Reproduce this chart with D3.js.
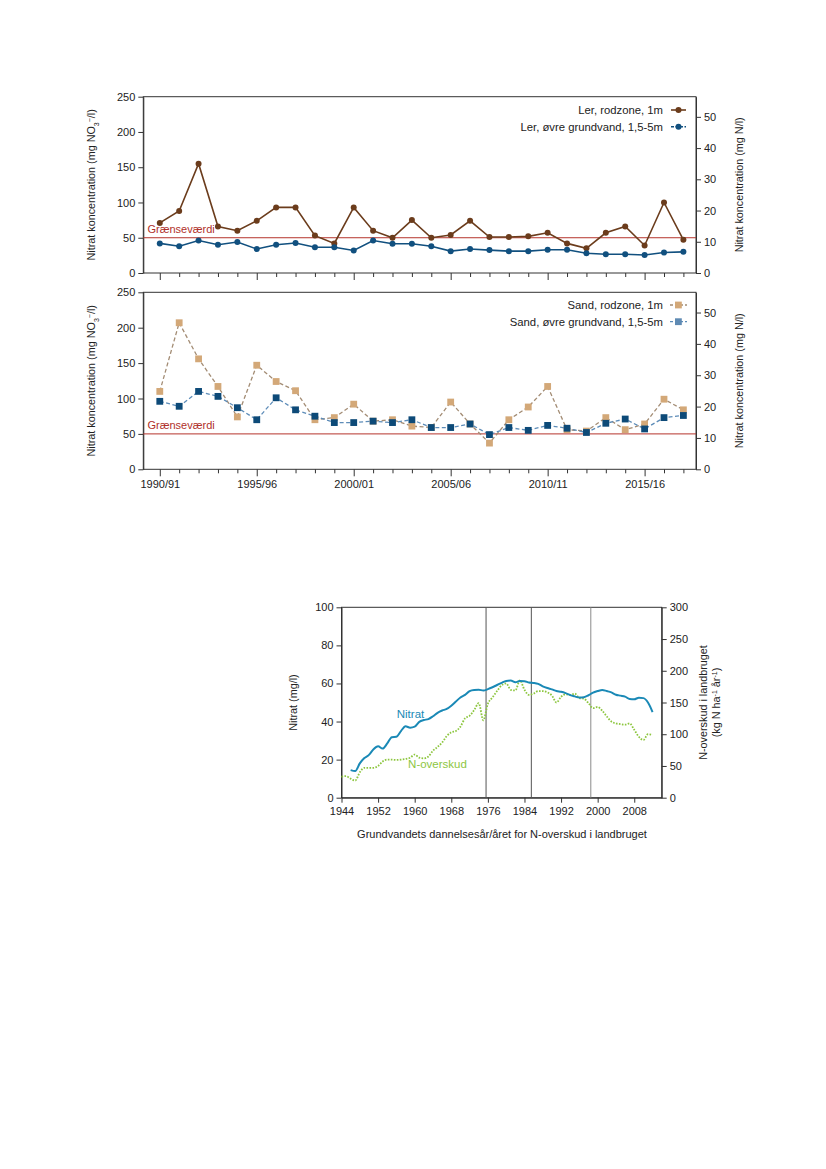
<!DOCTYPE html>
<html>
<head>
<meta charset="utf-8">
<script src="https://cdn.jsdelivr.net/npm/d3@7"></script>
<style>
  body { margin: 0; background: #fff; }
  svg text { font-family: "Liberation Sans", Arial, sans-serif; }
</style>
</head>
<body>
<script>
// ---- data: top figure (mg NO3/l), one value per season ----
var seasons = ["1990/91","1991/92","1992/93","1993/94","1994/95","1995/96","1996/97","1997/98",
  "1998/99","1999/00","2000/01","2001/02","2002/03","2003/04","2004/05","2005/06","2006/07",
  "2007/08","2008/09","2009/10","2010/11","2011/12","2012/13","2013/14","2014/15","2015/16",
  "2016/17","2017/18"];
var lerRod = [71, 88, 155, 66, 60, 74, 93, 93, 53, 42, 93, 60, 50, 75, 50, 54, 74, 51, 51, 52, 57, 42, 35, 57, 66, 39, 100, 47];
var lerGrund = [42, 38, 46, 40, 44, 34, 40, 42.5, 36.5, 36.5, 32, 46, 41.5, 41.5, 38, 31, 34, 32.5, 31, 31, 33, 33, 28, 26.5, 26.5, 25.5, 29, 30];
var sandRod = [110, 207, 156, 117, 74, 147, 124, 111, 70, 73, 92, 68, 70, 61, 59, 95, 64, 37, 70, 88, 117, 56, 54, 73, 56, 64, 99, 84];
var sandGrund = [96, 89, 110, 103, 87, 70, 101, 84, 75, 66, 66, 68, 66, 70, 59, 59, 64, 49, 59, 55, 62, 58, 52, 65, 71, 57, 73, 76];
var limitValue = 50;
var leftTicksTop = [0, 50, 100, 150, 200, 250];
var rightTicksTop = [0, 10, 20, 30, 40, 50];

// ---- data: bottom figure ----
var nitratYears = d3.range(1946, 2013);
var nitrat = [14.5, 14, 18, 20.8, 22.5, 25.5, 27, 25.8, 28.5, 31.8, 32, 35, 37.5, 36.8, 37.3, 39.8,
  40.8, 41.3, 42.8, 44.6, 45.8, 46.6, 48.3, 50.5, 52.6, 54, 56, 56.6, 56.7, 56.3, 57, 58, 59.2, 60.3,
  61.3, 61.5, 60.6, 61.3, 61.2, 60.5, 60.3, 59.8, 58.5, 57.6, 56.9, 56, 55.6, 54.9, 53.9, 53.2, 52.6,
  52.8, 53.8, 55.2, 56, 56.6, 56, 55.3, 54.1, 53.6, 53.1, 51.8, 51.7, 52.5, 52.3, 50, 45];
var surplusYears = d3.range(1944, 2013);
var surplus = [33, 34, 30, 27, 40, 47, 47, 47, 50, 57, 60, 60, 59.5, 60, 61, 63, 68, 63, 62, 65, 74,
  80, 87, 97, 103, 105, 112, 125, 129, 138, 149, 122, 148, 158, 168, 177, 180, 170, 169, 185, 170,
  162, 164, 168, 168, 166, 161, 150, 159, 163, 162, 164, 157, 156, 149, 141, 143, 137, 128, 120, 117,
  116, 115, 117, 107, 96, 91, 100, 99];
var markerYears = [1975.6, 1985.5, 1998.5];
var xTicksBottom = [1944, 1952, 1960, 1968, 1976, 1984, 1992, 2000, 2008];
var leftTicksBottom = [0, 20, 40, 60, 80, 100];
var rightTicksBottom = [0, 50, 100, 150, 200, 250, 300];

var NtoNO3 = 14 / 62;

var svg = d3.select("body").append("svg")
    .attr("width", 826)
    .attr("height", 1169);

var axisColor = "#333";
var fontSize = "11px";

function styleAxis(g) {
    g.selectAll("path").attr("stroke", axisColor);
    g.selectAll("line").attr("stroke", axisColor);
    g.selectAll("text").attr("fill", "#222").style("font-size", fontSize);
}

// ================= top figure =================
var x = d3.scaleLinear().domain([-0.85, 27.65]).range([143.3, 696]);

var panels = [
    { top: 96.7, bottom: 273, rod: lerRod, grund: lerGrund, labels: false,
      names: ["Ler, rodzone, 1m", "Ler, øvre grundvand, 1,5-5m"] },
    { top: 292.3, bottom: 469.3, rod: sandRod, grund: sandGrund, labels: true,
      names: ["Sand, rodzone, 1m", "Sand, øvre grundvand, 1,5-5m"] }
];

panels.forEach(function(p, pi) {
    var y = d3.scaleLinear().domain([0, 250]).range([p.bottom, p.top]);
    var yR = d3.scaleLinear().domain([0, 250 * NtoNO3]).range([p.bottom, p.top]);
    var g = svg.append("g");

    // frame
    g.append("rect")
        .attr("x", x.range()[0]).attr("y", p.top)
        .attr("width", x.range()[1] - x.range()[0])
        .attr("height", p.bottom - p.top)
        .attr("fill", "none").attr("stroke", axisColor).attr("stroke-width", 1);

    // axes
    g.append("g").attr("transform", "translate(" + x.range()[0] + ",0)")
        .call(d3.axisLeft(y).tickValues(leftTicksTop).tickSize(5).tickSizeOuter(0))
        .call(styleAxis);
    g.append("g").attr("transform", "translate(" + x.range()[1] + ",0)")
        .call(d3.axisRight(yR).tickValues(rightTicksTop).tickSize(5).tickSizeOuter(0))
        .call(styleAxis);
    var xa = g.append("g").attr("transform", "translate(0," + p.bottom + ")")
        .call(d3.axisBottom(x).tickValues(d3.range(seasons.length)).tickSizeOuter(0)
            .tickFormat(function(i) { return (p.labels && i % 5 === 0) ? seasons[i] : ""; }))
        .call(styleAxis);
    xa.selectAll(".tick line").attr("y2", function(i) { return i % 5 === 0 ? 7 : 4; });
    xa.selectAll(".tick text").attr("y", 11);
    xa.select(".domain").remove();

    // limit line
    g.append("line")
        .attr("x1", x.range()[0]).attr("x2", x.range()[1])
        .attr("y1", y(limitValue)).attr("y2", y(limitValue))
        .attr("stroke", "#b5342c").attr("stroke-width", 1);
    g.append("text")
        .attr("x", 147.5).attr("y", y(limitValue) - 4.5)
        .attr("fill", "#b0302a").style("font-size", "11px")
        .text("Grænseværdi");

    // axis titles
    var lt = g.append("text")
        .attr("transform", "translate(95," + ((p.top + p.bottom) / 2) + ") rotate(-90)")
        .attr("text-anchor", "middle").attr("fill", "#222").style("font-size", "10.8px");
    lt.append("tspan").text("Nitrat koncentration (mg NO");
    lt.append("tspan").attr("baseline-shift", "sub").style("font-size", "7px").text("3");
    lt.append("tspan").attr("baseline-shift", "super").style("font-size", "7px").text("−");
    lt.append("tspan").text("/l)");
    g.append("text")
        .attr("transform", "translate(743," + ((p.top + p.bottom) / 2) + ") rotate(-90)")
        .attr("text-anchor", "middle").attr("fill", "#222").style("font-size", "10.8px")
        .text("Nitrat koncentration (mg N/l)");

    var line = d3.line().x(function(d, i) { return x(i); }).y(function(d) { return y(d); });

    if (pi === 0) {
        var series = [
            { data: p.rod, color: "#6b3c1c", mark: "#6b3c1c" },
            { data: p.grund, color: "#11507f", mark: "#11507f" }
        ];
        series.forEach(function(s) {
            g.append("path").datum(s.data).attr("d", line)
                .attr("fill", "none").attr("stroke", s.color).attr("stroke-width", 1.6);
            g.selectAll(null).data(s.data).enter().append("circle")
                .attr("cx", function(d, i) { return x(i); })
                .attr("cy", function(d) { return y(d); })
                .attr("r", 3).attr("fill", s.mark);
        });
        // legend
        series.forEach(function(s, k) {
            var ly = 110 + k * 16.7;
            g.append("text").attr("x", 663).attr("y", ly + 4).attr("text-anchor", "end")
                .attr("fill", "#222").style("font-size", "11.3px").text(p.names[k]);
            g.append("line").attr("x1", 671).attr("x2", 686).attr("y1", ly).attr("y2", ly)
                .attr("stroke", s.color).attr("stroke-width", 1.6)
                .attr("stroke-dasharray", k === 1 ? "3,1.5" : null);
            g.append("circle").attr("cx", 678.5).attr("cy", ly).attr("r", 3).attr("fill", s.mark);
        });
    } else {
        var series2 = [
            { data: p.rod, color: "#a38c74", mark: "#d3a878", legendMark: "#d3a878" },
            { data: p.grund, color: "#5d8cb8", mark: "#0d4a78", legendMark: "#5f8ab3" }
        ];
        series2.forEach(function(s) {
            g.append("path").datum(s.data).attr("d", line)
                .attr("fill", "none").attr("stroke", s.color).attr("stroke-width", 1.3)
                .attr("stroke-dasharray", "4,2.5");
        });
        series2.forEach(function(s) {
            g.selectAll(null).data(s.data).enter().append("rect")
                .attr("x", function(d, i) { return x(i) - 3.4; })
                .attr("y", function(d) { return y(d) - 3.4; })
                .attr("width", 6.8).attr("height", 6.8).attr("fill", s.mark);
        });
        series2.forEach(function(s, k) {
            var ly = 305 + k * 16.7;
            g.append("text").attr("x", 663).attr("y", ly + 4).attr("text-anchor", "end")
                .attr("fill", "#222").style("font-size", "11.3px").text(p.names[k]);
            g.append("line").attr("x1", 670).attr("x2", 687).attr("y1", ly).attr("y2", ly)
                .attr("stroke", s.color).attr("stroke-width", 1.3).attr("stroke-dasharray", "3,2");
            g.append("rect").attr("x", 675).attr("y", ly - 3.4).attr("width", 6.8).attr("height", 6.8)
                .attr("fill", s.legendMark);
        });
    }
});

// ================= bottom figure =================
var bx = d3.scaleLinear().domain([1944, 2014]).range([341.5, 661.7]);
var by = d3.scaleLinear().domain([0, 100]).range([797.7, 607.3]);
var byR = d3.scaleLinear().domain([0, 300]).range([797.7, 607.3]);
var b = svg.append("g");

b.append("rect")
    .attr("x", bx.range()[0]).attr("y", by.range()[1])
    .attr("width", bx.range()[1] - bx.range()[0])
    .attr("height", by.range()[0] - by.range()[1])
    .attr("fill", "none").attr("stroke", axisColor);

b.append("g").attr("transform", "translate(" + bx.range()[0] + ",0)")
    .call(d3.axisLeft(by).tickValues(leftTicksBottom).tickSize(5).tickSizeOuter(0))
    .call(styleAxis);
b.append("g").attr("transform", "translate(" + bx.range()[1] + ",0)")
    .call(d3.axisRight(byR).tickValues(rightTicksBottom).tickSize(5).tickSizeOuter(0))
    .call(styleAxis);
b.append("g").attr("transform", "translate(0," + by.range()[0] + ")")
    .call(d3.axisBottom(bx).tickValues(xTicksBottom).tickFormat(d3.format("d")).tickSize(5).tickSizeOuter(0))
    .call(styleAxis)
    .selectAll(".tick text").attr("y", 10);

// period lines
b.selectAll(null).data(markerYears).enter().append("line")
    .attr("x1", function(d) { return bx(d); }).attr("x2", function(d) { return bx(d); })
    .attr("y1", by.range()[1]).attr("y2", by.range()[0])
    .attr("stroke", function(d, i) { return i === 2 ? "#8a8a8a" : "#555"; })
    .attr("stroke-width", 1);

// surplus (right axis), dotted
b.append("path").datum(surplus)
    .attr("d", d3.line().curve(d3.curveMonotoneX)
        .x(function(d, i) { return bx(surplusYears[i]); })
        .y(function(d) { return byR(d); }))
    .attr("fill", "none").attr("stroke", "#8dc63f").attr("stroke-width", 1.8)
    .attr("stroke-dasharray", "1.6,1.4");

// nitrate (left axis)
b.append("path").datum(nitrat)
    .attr("d", d3.line().curve(d3.curveMonotoneX)
        .x(function(d, i) { return bx(nitratYears[i]); })
        .y(function(d) { return by(d); }))
    .attr("fill", "none").attr("stroke", "#1a89b6").attr("stroke-width", 2);

b.append("text").attr("x", 410.5).attr("y", 718).attr("text-anchor", "middle")
    .attr("fill", "#1a89b6").style("font-size", "11.5px").text("Nitrat");
b.append("text").attr("x", 437.5).attr("y", 768).attr("text-anchor", "middle")
    .attr("fill", "#8dc63f").style("font-size", "11.5px").text("N-overskud");

b.append("text")
    .attr("transform", "translate(297,702.5) rotate(-90)")
    .attr("text-anchor", "middle").attr("fill", "#222").style("font-size", "10.8px")
    .text("Nitrat (mg/l)");
b.append("text")
    .attr("transform", "translate(707,702.5) rotate(-90)")
    .attr("text-anchor", "middle").attr("fill", "#222").style("font-size", "10.8px")
    .text("N-overskud i landbruget");
var rt = b.append("text")
    .attr("transform", "translate(720,702.5) rotate(-90)")
    .attr("text-anchor", "middle").attr("fill", "#222").style("font-size", "10.8px");
rt.append("tspan").text("(kg N ha");
rt.append("tspan").attr("baseline-shift", "super").style("font-size", "7px").text("-1");
rt.append("tspan").text(" år");
rt.append("tspan").attr("baseline-shift", "super").style("font-size", "7px").text("-1");
rt.append("tspan").text(")");

b.append("text").attr("x", 502).attr("y", 838).attr("text-anchor", "middle")
    .attr("fill", "#222").style("font-size", "11px")
    .text("Grundvandets dannelsesår/året for N-overskud i landbruget");
</script>
</body>
</html>
